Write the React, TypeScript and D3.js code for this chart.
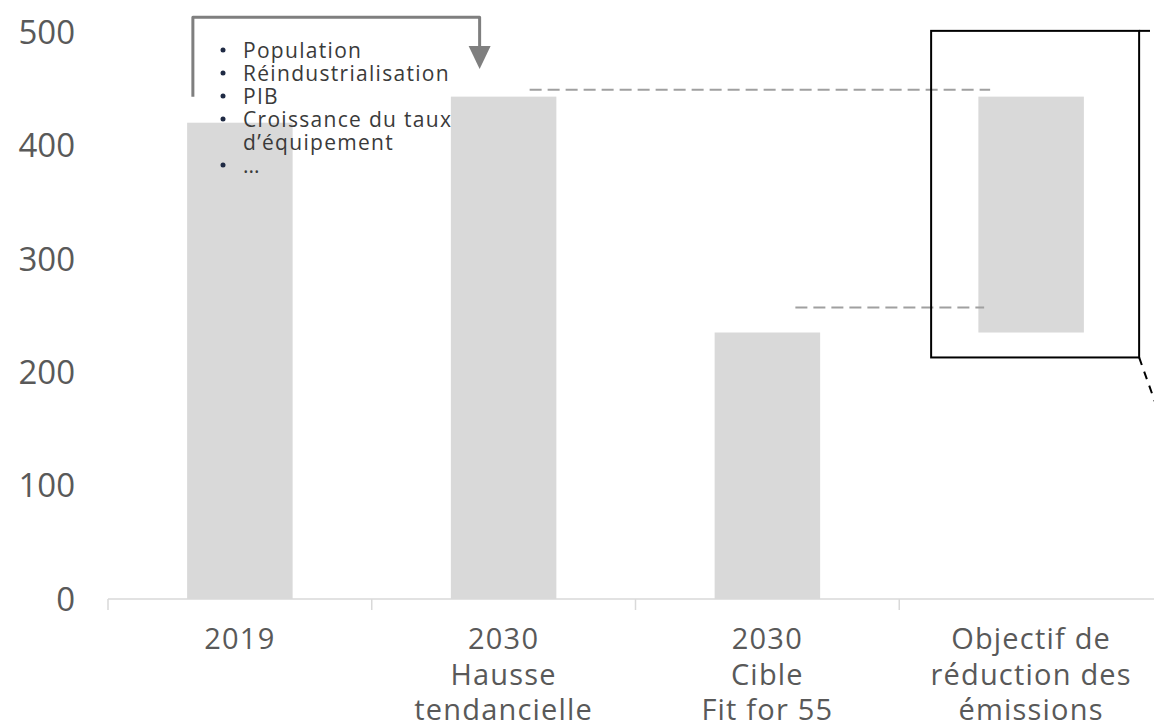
import * as d3 from 'd3';

// categories and values (Mt CO2e)
const categories = ['2019', '2030 Hausse', '2030 Cible', 'Objectif'];
const categoryLines = [
  ['2019'],
  ['2030', 'Hausse', 'tendancielle'],
  ['2030', 'Cible', 'Fit for 55'],
  ['Objectif de', 'réduction des', 'émissions'],
];
const barBase = [0, 0, 0, 235];
const barTop = [420, 443, 235, 443];
const yTicks = [0, 100, 200, 300, 400, 500];

const drivers = ['Population', 'Réindustrialisation', 'PIB', 'Croissance du taux|d’équipement', '...'];

// annotation levels (value space)
const upperDash = 449;
const lowerDash = 257;
const boxTop = 501;
const boxBottom = 213;

const W = 1154;
const H = 727;

export default function App() {
  const x = d3.scaleBand<string>().domain(categories).range([108, 1163]).padding(0);
  const y = d3.scaleLinear().domain([0, 500]).range([599, 32]);
  const bw = x.bandwidth() * 0.4;
  const cx = (i: number) => (x(categories[i]) as number) + x.bandwidth() / 2;

  const font = '"Open Sans", sans-serif';
  const textColor = '#595959';

  // bracket arrow from 2019 to 2030
  const bx0 = cx(0) - 47;
  const bx1 = cx(1) - 24;
  const bracketTop = y(513);

  // bullet list rows
  let row = 0;
  const rows: { text: string; bullet: boolean; r: number }[] = [];
  drivers.forEach((d) => {
    d.split('|').forEach((t, j) => {
      rows.push({ text: t, bullet: j === 0, r: row });
      row += 1;
    });
  });

  const boxL = cx(3) - 100;
  const boxR = cx(3) + 108;

  return (
    <svg width={W} height={H} style={{ position: 'absolute', left: 0, top: 0, background: '#fff' }}>
      {/* bars */}
      {categories.map((c, i) => (
        <rect
          key={c}
          x={cx(i) - bw / 2}
          y={y(barTop[i])}
          width={bw}
          height={y(barBase[i]) - y(barTop[i])}
          fill="#d9d9d9"
        />
      ))}

      {/* x axis */}
      <line x1={x.range()[0]} x2={W} y1={y(0)} y2={y(0)} stroke="#d9d9d9" strokeWidth={1.5} />
      {categories.map((c) => (
        <line
          key={c}
          x1={x(c) as number}
          x2={x(c) as number}
          y1={y(0)}
          y2={y(0) + 11}
          stroke="#d9d9d9"
          strokeWidth={1.5}
        />
      ))}

      {/* y tick labels */}
      {yTicks.map((t) => (
        <text
          key={t}
          x={75}
          y={y(t)}
          dy="0.36em"
          textAnchor="end"
          fontFamily={font}
          fontSize={33}
          fill={textColor}
        >
          {t}
        </text>
      ))}

      {/* category labels */}
      {categoryLines.map((lines, i) =>
        lines.map((l, j) => (
          <text
            key={i + '-' + j}
            x={cx(i)}
            y={649 + j * 35.5}
            textAnchor="middle"
            fontFamily={font}
            fontSize={29}
            letterSpacing={1.2}
            fill={textColor}
          >
            {l}
          </text>
        ))
      )}

      {/* dashed reference lines */}
      <line
        x1={cx(1) + 26}
        x2={boxL + 59}
        y1={y(upperDash)}
        y2={y(upperDash)}
        stroke="#a0a0a0"
        strokeWidth={2}
        strokeDasharray="12 6"
      />
      <line
        x1={cx(2) + 28}
        x2={boxL + 53}
        y1={y(lowerDash)}
        y2={y(lowerDash)}
        stroke="#a0a0a0"
        strokeWidth={2}
        strokeDasharray="12 6"
      />

      {/* zoom box */}
      <rect
        x={boxL}
        y={y(boxTop)}
        width={boxR - boxL}
        height={y(boxBottom) - y(boxTop)}
        fill="none"
        stroke="#000"
        strokeWidth={2}
      />
      <line x1={boxR} x2={W - 4} y1={y(boxTop)} y2={y(boxTop)} stroke="#000" strokeWidth={2} />
      <line
        x1={boxR}
        y1={y(boxBottom)}
        x2={boxR + 30}
        y2={y(boxBottom) + 84}
        stroke="#000"
        strokeWidth={2}
        strokeDasharray="8 7"
      />

      {/* bracket arrow */}
      <path
        d={`M${bx0},${y(443)} L${bx0},${bracketTop} L${bx1},${bracketTop} L${bx1},47`}
        fill="none"
        stroke="#7f7f7f"
        strokeWidth={3}
        strokeLinejoin="round"
      />
      <path d={`M${bx1 - 11},46 L${bx1 + 11},46 L${bx1},69 Z`} fill="#7f7f7f" />

      {/* drivers list */}
      {rows.map((r) => (
        <g key={r.r}>
          {r.bullet && <circle cx={223} cy={50 + r.r * 23} r={2.5} fill="#1f2a44" />}
          <text
            x={243}
            y={50 + r.r * 23}
            dy="0.36em"
            fontFamily={font}
            fontSize={21}
            letterSpacing={r.text === '...' ? 0 : 1.3}
            fill="#3a3a3a"
          >
            {r.text}
          </text>
        </g>
      ))}
    </svg>
  );
}
